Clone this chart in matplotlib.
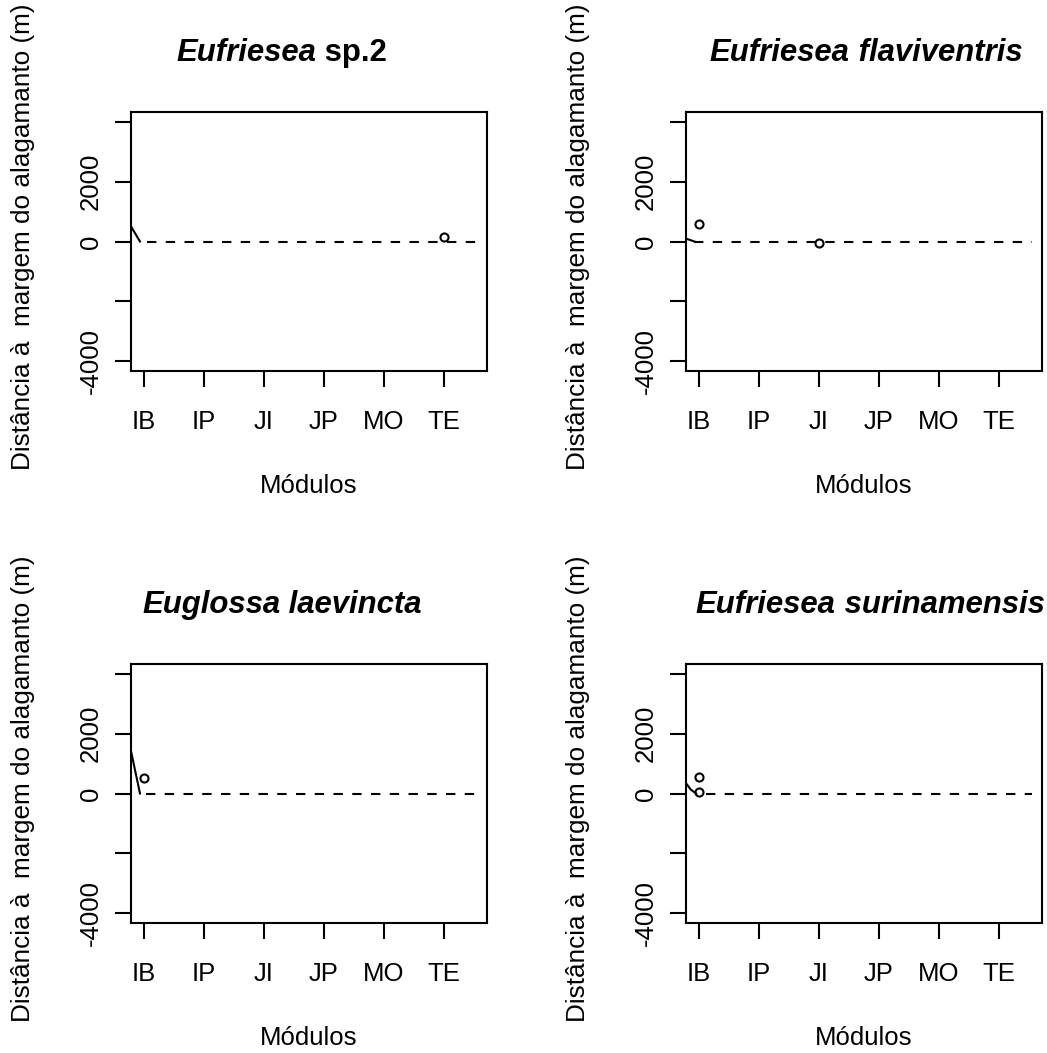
import matplotlib
matplotlib.use("Agg")
import matplotlib.pyplot as plt

plt.rcParams['font.family'] = ['Liberation Sans', 'DejaVu Sans']

W, H = 1047, 1053

modulos = ["IB", "IP", "JI", "JP", "MO", "TE"]
genus = ["Eufriesea", "Eufriesea", "Euglossa", "Eufriesea"]
species = ["sp.2", "flaviventris", "laevincta", "surinamensis"]
species_italic = [False, True, True, True]

# observed distances per panel (module index, metres)
pts_x = [[6], [1, 3], [1], [1, 1]]
pts_y = [[150], [600, -60], [530], [550, 60]]

# fitted curve near the first module
curve_x = [[0.70, 0.93], [0.70, 0.92], [0.70, 0.93], [0.70, 0.86, 0.95]]
curve_y = [[770, 0], [150, 0], [2170, 0], [560, 130, 0]]

# dashed reference at zero
dash_start = [1.05, 0.92, 1.03, 1.12]
dash_end = 6.55

yticks = [-4000, -2000, 0, 2000, 4000]
ytick_labels = ["-4000", "", "0", "2000", ""]

# panel boxes in pixels: left, top
box_left = [131, 686, 131, 686]
box_top = [112, 112, 664, 664]
box_w, box_h = 356, 259
title_cx = [282, 866, 282, 870]

fig = plt.figure(figsize=(W / 100, H / 100), dpi=100)
renderer = fig.canvas.get_renderer()


def fx(px):
    return px / W


def fy(py):
    return 1 - py / H


def draw_title(cx, base_y, parts):
    texts = []
    for txt, style in parts:
        t = fig.text(0, fy(base_y), txt, fontsize=22.4, fontweight='bold',
                     fontstyle=style, va='baseline', ha='left')
        texts.append(t)
    widths = [t.get_window_extent(renderer).width for t in texts]
    x = cx - sum(widths) / 2
    for t, w in zip(texts, widths):
        t.set_x(fx(x))
        x += w


for i in range(4):
    l, t = box_left[i], box_top[i]
    ax = fig.add_axes([fx(l), fy(t + box_h), box_w / W, box_h / H])
    ax.plot(curve_x[i], curve_y[i], color='black', lw=1.5)
    ax.plot([dash_start[i], dash_end], [0, 0], color='black', lw=1.5,
            linestyle=(0, (4.5, 4.5)))
    ax.plot(pts_x[i], pts_y[i], 'o', mfc='none', mec='black', ms=5.8, mew=1.5)

    ax.set_xlim(0.78, 6.72)
    ax.set_ylim(-4320, 4320)
    ax.set_xticks(range(1, 7), modulos)
    ax.set_yticks(yticks, ytick_labels)
    for s in ax.spines.values():
        s.set_linewidth(1.5)
    ax.tick_params(axis='both', direction='out', length=11.5, width=1.5,
                   labelsize=18.5)
    ax.tick_params(axis='x', pad=16.5)
    ax.tick_params(axis='y', pad=9)
    for lab in ax.get_yticklabels():
        lab.set_rotation(90)
        lab.set_va('center')

    fig.text(fx(l - 108), fy(t + 125), "Distância à  margem do alagamanto (m)",
             rotation=90, ha='center', va='center', fontsize=18.8)
    fig.text(fx(l + box_w / 2), fy(t + 381), "Módulos", ha='center',
             va='baseline', fontsize=18.5)

    sp_style = 'italic' if species_italic[i] else 'normal'
    draw_title(title_cx[i], t - 51, [(genus[i], 'italic'), (" " + species[i], sp_style)])

fig.savefig("out.png", dpi=100)
